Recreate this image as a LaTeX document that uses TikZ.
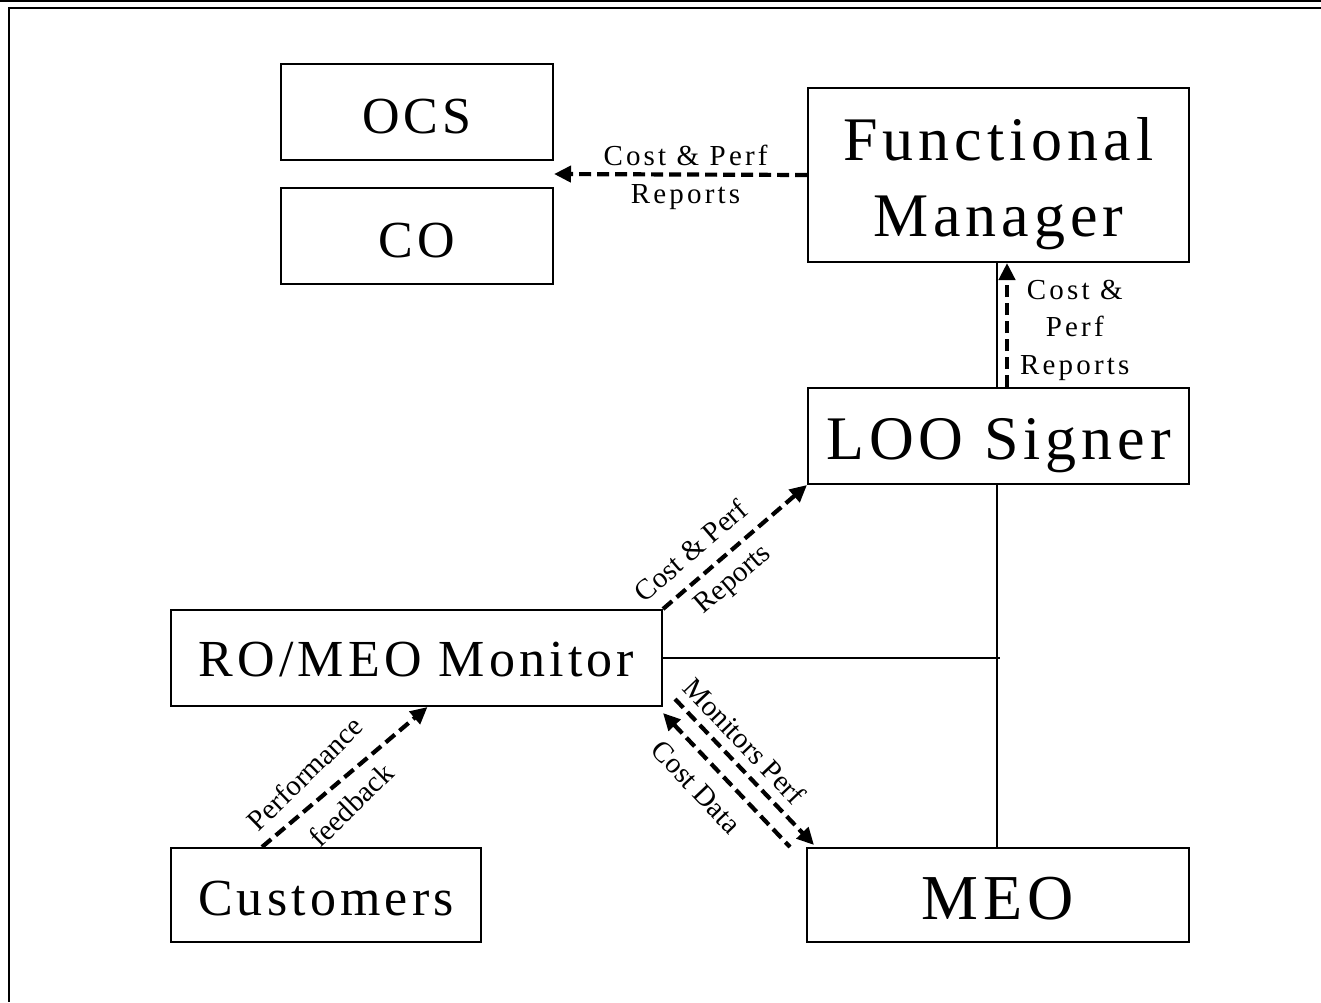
\documentclass[tikz,border=0pt]{standalone}
\usepackage{fontspec}
\setmainfont{Liberation Serif}
\newfontfamily\spacedfont[LetterSpace=8]{Liberation Serif}
\newfontfamily\lblfont[LetterSpace=11]{Liberation Serif}
\usetikzlibrary{arrows.meta,calc}
\tikzset{
  box/.style n args={2}{draw, line width=2pt, inner sep=0pt, minimum width=#1, minimum height=#2, align=center,
    text depth=0pt, font=\spacedfont\fontsize{52}{62}\selectfont},
  bigtext/.style={font=\spacedfont\fontsize{62}{76}\selectfont},
  boxtext/.style={inner sep=0pt, font=\spacedfont\fontsize{62}{76}\selectfont},
  dasharrow/.style={line width=4.2pt, dash pattern=on 12pt off 6pt, -{Triangle[length=17pt,width=16pt]}},
  dasharrowrev/.style={line width=4.2pt, dash pattern=on 12pt off 6pt, {Triangle[length=17pt,width=16pt]}-},
  solidline/.style={line width=1.5pt},
  diag/.style={inner sep=0pt, font=\fontsize{29}{34}\selectfont},
  lbl/.style={inner sep=0pt, align=center, font=\lblfont\fontsize{29}{37.5}\selectfont},
}
\begin{document}
\begin{tikzpicture}[x=1pt,y=-1pt]
\useasboundingbox (0,0) rectangle (1321,1002);
% frame
\draw[line width=1.5pt] (0,0.75) -- (1321,0.75);
\draw[line width=2.5pt] (1321,8) -- (9,8) -- (9,1002);
% boxes
\node[box={272pt}{96pt}, text height=42pt] (ocs) at (417,112) {OCS};
\node[box={272pt}{96pt}, text height=42pt] (co) at (417,236) {CO};
\node[box={381pt}{174pt}] (fm) at (998.5,175) {};
\node[boxtext, anchor=base] (fmtop) at ($(fm.center)+(0,-15)$) {Functional};
\node[boxtext, anchor=base] (fmbot) at ($(fm.center)+(0,61)$) {Manager};
\node[box={381pt}{96pt}, bigtext, text height=46pt] (loo) at (998.5,436) {LOO Signer};
\node[box={491pt}{96pt}, text height=37pt] (ro) at (416.5,658) {RO/MEO Monitor};
\node[box={310pt}{94pt}, text height=40pt] (cust) at (326,895) {Customers};
\node[box={382pt}{94pt}, text height=48pt, font=\spacedfont\fontsize{64}{76}\selectfont] (meo) at (998,895) {MEO};
% helper coordinates
\coordinate (gap) at ($(ocs.south east)!0.5!(co.north east)$);
\coordinate (j) at (loo.south |- ro.east);
% solid connectors
\draw[solidline] ([xshift=-1.5pt]fm.south) -- ([xshift=-1.5pt]loo.north);
\draw[solidline] ([xshift=-1.5pt]loo.south) -- ([xshift=-1.5pt]loo.south |- meo.north);
\draw[solidline] (ro.east) -- ([xshift=1pt]j);
% dashed connectors
\draw[dasharrow] (fm.west) -- node[pos=0.48, yshift=-3pt, lbl] {Cost \& Perf\\Reports} (gap);
\draw[dasharrow] ([xshift=8.5pt]loo.north) -- node[pos=0.46, right=11pt, lbl] {Cost \&\\Perf\\Reports} ([xshift=8.5pt]fm.south);
\draw[dasharrow] (ro.north east) -- node[pos=0.31, sloped, above=14pt, diag] {Cost \& Perf}
  node[pos=0.38, sloped, below=10pt, diag] {Reports} (loo.south west);
\draw[dasharrow] ([xshift=-64pt]cust.north) -- node[pos=0.38, sloped, rotate=4, above=16pt, diag] {Performance}
  node[pos=0.43, sloped, rotate=4, below=13pt, diag] {feedback} ([xshift=11pt]ro.south);
\draw[dasharrow] ($(ro.south east)+(12,-8)$) -- node[pos=0.39, sloped, above=9pt, diag] {Monitors Perf}
  ($(meo.north west)+(8,-2)$);
\draw[dasharrowrev] ($(ro.south east)+(0,6)$) -- node[pos=0.415, sloped, below=15pt, diag] {Cost Data}
  ($(meo.north west)+(-16,0)$);
\end{tikzpicture}
\end{document}
